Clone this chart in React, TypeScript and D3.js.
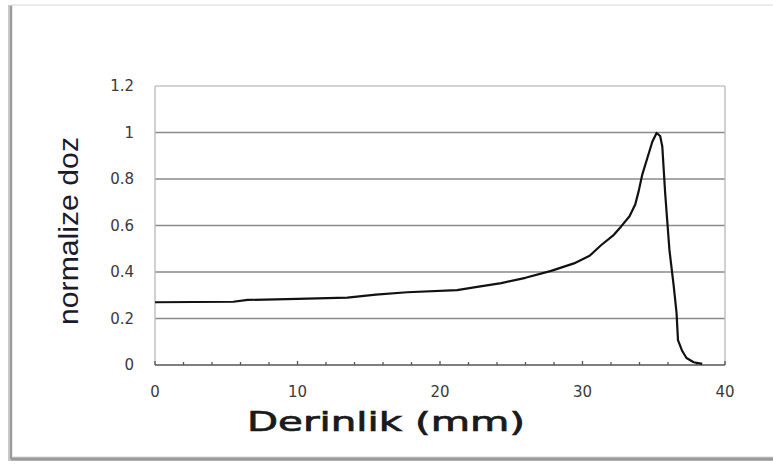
import * as d3 from "d3";
import React, { useRef, useEffect } from "react";

// depth (mm) and normalized dose
const depth = [0, 5.5, 6.5, 10, 13.5, 15.5, 17.7, 21.2, 22.5, 24.3, 26, 27.8, 29.4, 30.5, 31.3, 32.2, 32.7, 33.3, 33.7, 33.95, 34.2, 34.6, 34.9, 35.2, 35.45, 35.6, 35.8, 36.1, 36.4, 36.6, 36.7, 37.0, 37.3, 37.8, 38.4];
const dose = [0.27, 0.272, 0.28, 0.284, 0.29, 0.303, 0.313, 0.322, 0.335, 0.352, 0.375, 0.405, 0.437, 0.47, 0.515, 0.56, 0.595, 0.64, 0.69, 0.75, 0.82, 0.9, 0.96, 0.998, 0.985, 0.94, 0.74, 0.495, 0.34, 0.224, 0.107, 0.06, 0.03, 0.012, 0.005];
const xTicks = [0, 10, 20, 30, 40];
const yTicks = [0, 0.2, 0.4, 0.6, 0.8, 1, 1.2];
const xLabel = "Derinlik (mm)";
const yLabel = "normalize doz";

export default function App() {
  const svgRef = useRef<SVGSVGElement>(null);

  useEffect(() => {
    const svg = d3.select(svgRef.current);
    svg.selectAll("*").remove();

    const plot = { left: 155, right: 725, top: 86, bottom: 365 };
    const x = d3.scaleLinear().domain([0, 40]).range([plot.left, plot.right]);
    const y = d3.scaleLinear().domain([0, 1.2]).range([plot.bottom, plot.top]);

    // outer frame with shadow
    svg.append("rect").attr("x", 8).attr("y", 5).attr("width", 780).attr("height", 456)
      .attr("fill", "#c8c8c8");
    svg.append("rect").attr("x", 12).attr("y", 5).attr("width", 780).attr("height", 452)
      .attr("fill", "#fff").attr("stroke", "#d8d8d8").attr("stroke-width", 1);
    svg.append("line").attr("x1", 11).attr("x2", 11).attr("y1", 6).attr("y2", 459)
      .attr("stroke", "#9a9a9a").attr("stroke-width", 2);
    svg.append("line").attr("x1", 11).attr("x2", 773).attr("y1", 459).attr("y2", 459)
      .attr("stroke", "#9a9a9a").attr("stroke-width", 3);

    // grid
    svg.append("g").selectAll("line").data(yTicks.filter((d) => d > 0)).enter().append("line")
      .attr("x1", plot.left).attr("x2", plot.right)
      .attr("y1", (d) => y(d)).attr("y2", (d) => y(d))
      .attr("stroke", (d) => (d === 1.2 ? "#c4c4c4" : "#8a8a8a")).attr("stroke-width", 1.3);
    svg.append("line").attr("x1", plot.left).attr("x2", plot.left).attr("y1", plot.top).attr("y2", plot.bottom)
      .attr("stroke", "#b8b8b8").attr("stroke-width", 1.3);
    svg.append("line").attr("x1", plot.right).attr("x2", plot.right).attr("y1", plot.top).attr("y2", plot.bottom)
      .attr("stroke", "#b8b8b8").attr("stroke-width", 1.3);

    // x axis with minor ticks
    svg.append("line").attr("x1", plot.left).attr("x2", plot.right).attr("y1", plot.bottom).attr("y2", plot.bottom)
      .attr("stroke", "#555").attr("stroke-width", 1.5);
    svg.append("g").selectAll("line").data(d3.range(0, 41, 2)).enter().append("line")
      .attr("x1", (d) => x(d)).attr("x2", (d) => x(d))
      .attr("y1", plot.bottom).attr("y2", (d) => plot.bottom - (d % 10 === 0 ? 4 : 3))
      .attr("stroke", "#555").attr("stroke-width", 1.3);

    svg.append("g").selectAll("text").data(xTicks).enter().append("text")
      .attr("x", (d) => x(d)).attr("y", 397).attr("text-anchor", "middle")
      .attr("font-family", "DejaVu Sans, sans-serif").attr("font-size", 15)
      .attr("fill", "#3a3a3a").text((d) => String(d));

    svg.append("g").selectAll("text").data(yTicks).enter().append("text")
      .attr("x", 134).attr("y", (d) => y(d) + 5).attr("text-anchor", "end")
      .attr("font-family", "DejaVu Sans, sans-serif").attr("font-size", 15)
      .attr("fill", "#3a3a3a").text((d) => String(d));

    // curve
    const pts = depth.map((d, i) => [d, dose[i]] as [number, number]);
    const line = d3.line<[number, number]>().x((d) => x(d[0])).y((d) => y(d[1]));
    svg.append("path").datum(pts).attr("d", line).attr("fill", "none")
      .attr("stroke", "#111").attr("stroke-width", 2.2).attr("stroke-linejoin", "round");

    // axis titles
    svg.append("text").attr("x", 247).attr("y", 431)
      .attr("font-family", "DejaVu Sans, sans-serif").attr("font-size", 26)
      .attr("textLength", 278).attr("lengthAdjust", "spacingAndGlyphs")
      .attr("fill", "#1a1a1a").attr("stroke", "#1a1a1a").attr("stroke-width", 0.7)
      .text(xLabel);

    svg.append("text").attr("transform", "translate(78,231) rotate(-90)")
      .attr("text-anchor", "middle")
      .attr("font-family", "Liberation Sans, Arial, sans-serif").attr("font-size", 28)
      .attr("textLength", 188).attr("lengthAdjust", "spacingAndGlyphs")
      .attr("fill", "#1a1a2a").text(yLabel);
  }, []);

  return (
    <svg ref={svgRef} width={773} height={464}
      style={{ position: "absolute", left: 0, top: 0, background: "#fff" }} />
  );
}
